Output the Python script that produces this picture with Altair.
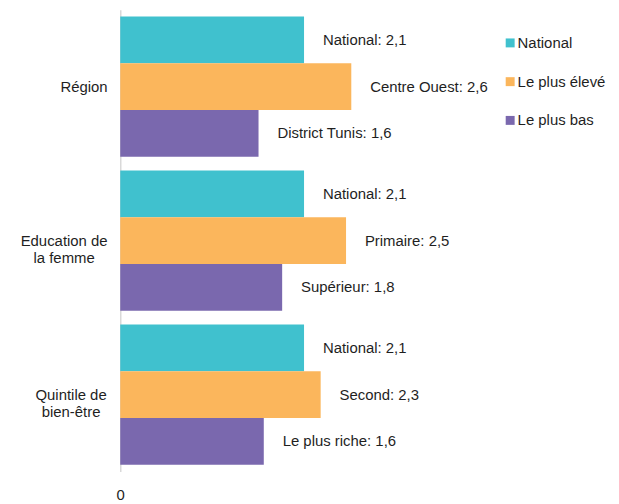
import altair as alt
import pandas as pd

# Category labels ("|" = line break)
groups = ["Région", "Education de|la femme", "Quintile de|bien-être"]
series = ["National", "Le plus élevé", "Le plus bas"]

national_vals = [2.10, 2.10, 2.10]
highest_vals = [2.64, 2.58, 2.29]
lowest_vals = [1.58, 1.85, 1.64]

national_names = ["National", "National", "National"]
highest_names = ["Centre Ouest", "Primaire", "Second"]
lowest_names = ["District Tunis", "Supérieur", "Le plus riche"]

national_text = ["2,1", "2,1", "2,1"]
highest_text = ["2,6", "2,5", "2,3"]
lowest_text = ["1,6", "1,8", "1,6"]

colors = ["#40C1CE", "#FBB65C", "#7A68AE"]

rows = []
for i, g in enumerate(groups):
    for s, vals, names, txt in [
        (series[0], national_vals, national_names, national_text),
        (series[1], highest_vals, highest_names, highest_text),
        (series[2], lowest_vals, lowest_names, lowest_text),
    ]:
        rows.append({"group": g, "series": s, "value": vals[i],
                     "label": f"{names[i]}: {txt[i]}"})
df = pd.DataFrame(rows)

FONT = "Liberation Sans"
TXT = "#1f1f1f"

label_pad = {
    "condition": [
        {"test": f"datum.value === '{groups[0]}'", "value": 37},
        {"test": f"datum.value === '{groups[2]}'", "value": 50},
    ],
    "value": 57,
}

base = alt.Chart(df).encode(
    y=alt.Y("group:N", sort=groups,
            scale=alt.Scale(paddingInner=0.0903, paddingOuter=0.045),
            axis=alt.Axis(title=None, labelExpr="split(datum.label, '|')",
                          labelAlign="center", labelPadding=label_pad,
                          ticks=False,
                          labelFont=FONT, labelFontSize=15, labelColor=TXT,
                          labelLineHeight=18, domainColor="#D9D9D9",
                          domainWidth=1.5, minExtent=106, maxExtent=106,
                          grid=False)),
    yOffset=alt.YOffset("series:N", sort=series,
                        scale=alt.Scale(paddingInner=0, paddingOuter=0)),
    x=alt.X("value:Q", scale=alt.Scale(domain=[0, 4.2], nice=False),
            axis=alt.Axis(title=None, values=[0], ticks=False, domain=False,
                          grid=False, labelPadding=16, labelFont=FONT,
                          labelFontSize=15, labelColor=TXT,
                          labelFlush=False)),
)

bars = base.mark_bar().encode(
    color=alt.Color("series:N", sort=series,
                    scale=alt.Scale(domain=series, range=colors),
                    legend=alt.Legend(title=None, orient="none", legendX=385,
                                      legendY=26, symbolType="square",
                                      symbolSize=81, rowPadding=23,
                                      labelOffset=0, labelFont=FONT,
                                      labelFontSize=15, labelColor=TXT,
                                      padding=0))
)

labels = base.mark_text(align="left", baseline="middle", dx=19,
                        font=FONT, fontSize=15, color=TXT).encode(
    text="label:N"
)

chart = alt.layer(bars, labels).properties(
    width=370, height=465,
    padding={"left": 7, "top": 0, "right": 5, "bottom": 0},
).configure_view(stroke=None)

chart.save("out.html", embed_options={"renderer": "svg", "actions": False})
